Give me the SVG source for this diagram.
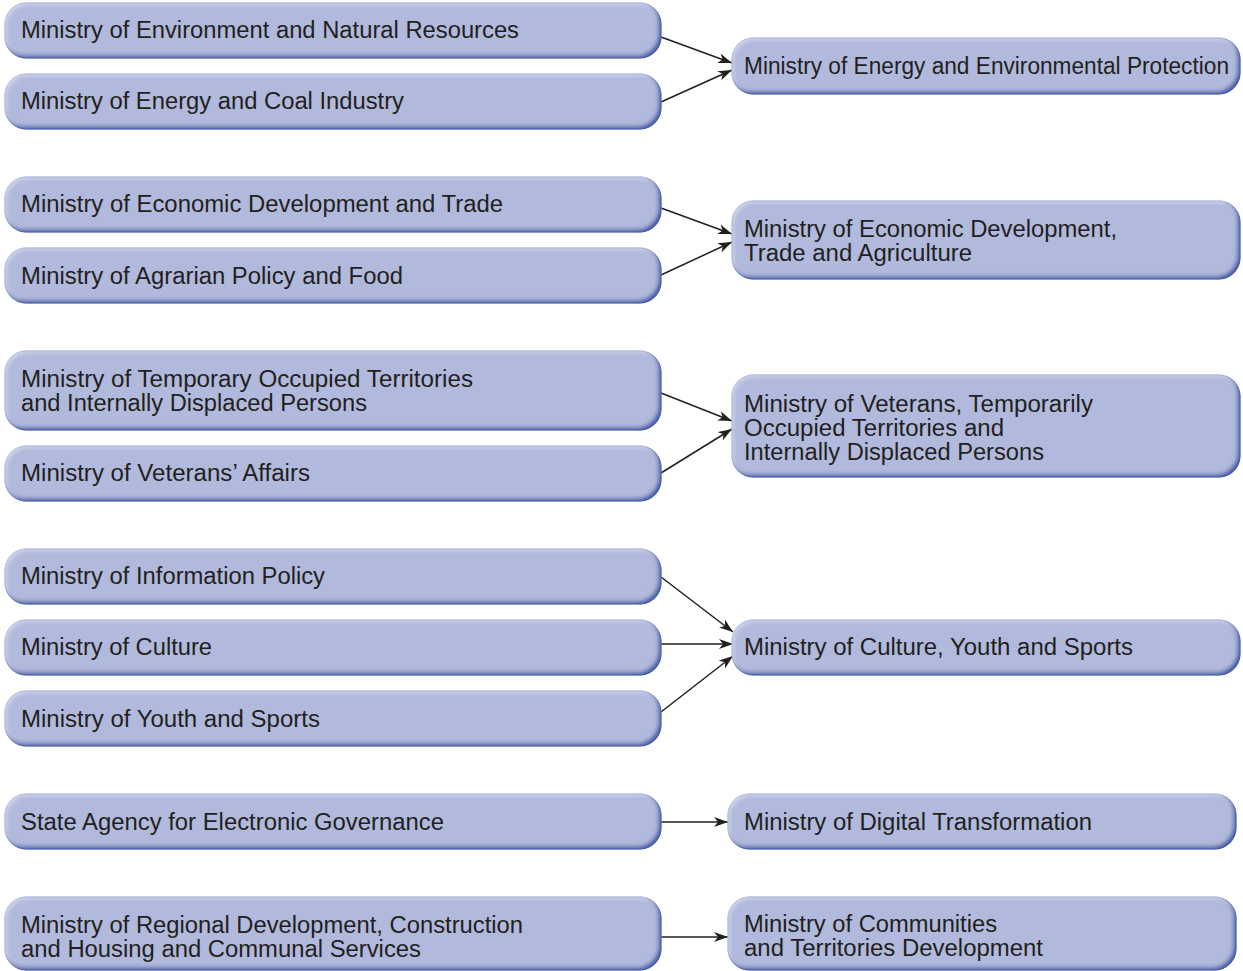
<svg xmlns="http://www.w3.org/2000/svg" width="1243" height="971" viewBox="0 0 1243 971">
<style>
.box{fill:#b1b9dc;stroke:#7f8ec7;stroke-width:1;filter:url(#bevel)}
.t{font-family:"Liberation Sans",Arial,Helvetica,sans-serif;font-size:23px;fill:#231f20}
.c{stroke:#231f20;stroke-width:1.5;fill:none;marker-end:url(#ah)}
</style>
<defs>
<filter id="bevel" x="-5%" y="-20%" width="110%" height="140%">
<feGaussianBlur in="SourceAlpha" stdDeviation="2" result="blur"/>
<feOffset in="blur" dx="-3.5" dy="-3" result="off"/>
<feComposite in="SourceAlpha" in2="off" operator="out" result="rim"/>
<feFlood flood-color="#3955a4" result="c1"/>
<feComposite in="c1" in2="rim" operator="in" result="shade"/>
<feOffset in="blur" dx="2" dy="2" result="off2"/>
<feComposite in="SourceAlpha" in2="off2" operator="out" result="rim2"/>
<feFlood flood-color="#dfe3f4" flood-opacity="0.7" result="c2"/>
<feComposite in="c2" in2="rim2" operator="in" result="hl"/>
<feMerge><feMergeNode in="SourceGraphic"/><feMergeNode in="hl"/><feMergeNode in="shade"/></feMerge>
</filter>
<marker id="ah" markerUnits="userSpaceOnUse" markerWidth="15" markerHeight="11" refX="14" refY="5" orient="auto">
<path d="M0,0 L14,5 L0,10 L4,5 Z" fill="#231f20"/>
</marker>
</defs>

<g id="connectors">
<line class="c" x1="661" y1="37" x2="732" y2="63"/>
<line class="c" x1="661" y1="102" x2="732" y2="70"/>
<line class="c" x1="661" y1="208" x2="732" y2="234"/>
<line class="c" x1="661" y1="275" x2="732" y2="242"/>
<line class="c" x1="661" y1="393" x2="732" y2="421"/>
<line class="c" x1="661" y1="473" x2="732" y2="429"/>
<line class="c" x1="661" y1="577" x2="733" y2="632"/>
<line class="c" x1="661" y1="644" x2="733" y2="644"/>
<line class="c" x1="661" y1="712" x2="733" y2="656"/>
<line class="c" x1="660" y1="822" x2="728" y2="822"/>
<line class="c" x1="660" y1="937" x2="728" y2="937"/>
</g>

<g id="n1"><rect class="box" x="5" y="3" width="656" height="55" rx="21"/>
<text class="t" x="21" y="38" textLength="498" lengthAdjust="spacingAndGlyphs">Ministry of Environment and Natural Resources</text></g>
<g id="n2"><rect class="box" x="5" y="74" width="656" height="55" rx="21"/>
<text class="t" x="21" y="109" textLength="383" lengthAdjust="spacingAndGlyphs">Ministry of Energy and Coal Industry</text></g>
<g id="n3"><rect class="box" x="5" y="177" width="656" height="55" rx="21"/>
<text class="t" x="21" y="212" textLength="482" lengthAdjust="spacingAndGlyphs">Ministry of Economic Development and Trade</text></g>
<g id="n4"><rect class="box" x="5" y="248" width="656" height="55" rx="21"/>
<text class="t" x="21" y="284" textLength="382" lengthAdjust="spacingAndGlyphs">Ministry of Agrarian Policy and Food</text></g>
<g id="n5"><rect class="box" x="5" y="351" width="656" height="79" rx="21"/>
<text class="t" x="21" y="387" textLength="452" lengthAdjust="spacingAndGlyphs">Ministry of Temporary Occupied Territories</text>
<text class="t" x="21" y="411" textLength="346" lengthAdjust="spacingAndGlyphs">and Internally Displaced Persons</text></g>
<g id="n6"><rect class="box" x="5" y="446" width="656" height="55" rx="21"/>
<text class="t" x="21" y="481" textLength="289" lengthAdjust="spacingAndGlyphs">Ministry of Veterans’ Affairs</text></g>
<g id="n7"><rect class="box" x="5" y="549" width="656" height="55" rx="21"/>
<text class="t" x="21" y="584" textLength="304" lengthAdjust="spacingAndGlyphs">Ministry of Information Policy</text></g>
<g id="n8"><rect class="box" x="5" y="620" width="656" height="55" rx="21"/>
<text class="t" x="21" y="655" textLength="191" lengthAdjust="spacingAndGlyphs">Ministry of Culture</text></g>
<g id="n9"><rect class="box" x="5" y="691" width="656" height="55" rx="21"/>
<text class="t" x="21" y="727" textLength="299" lengthAdjust="spacingAndGlyphs">Ministry of Youth and Sports</text></g>
<g id="n10"><rect class="box" x="5" y="794" width="656" height="55" rx="21"/>
<text class="t" x="21" y="830" textLength="423" lengthAdjust="spacingAndGlyphs">State Agency for Electronic Governance</text></g>
<g id="n11"><rect class="box" x="5" y="897" width="656" height="73" rx="21"/>
<text class="t" x="21" y="933" textLength="502" lengthAdjust="spacingAndGlyphs">Ministry of Regional Development, Construction</text>
<text class="t" x="21" y="957" textLength="400" lengthAdjust="spacingAndGlyphs">and Housing and Communal Services</text></g>

<g id="r1"><rect class="box" x="732" y="38" width="508" height="56" rx="21"/>
<text class="t" x="744" y="74" textLength="485" lengthAdjust="spacingAndGlyphs">Ministry of Energy and Environmental Protection</text></g>
<g id="r2"><rect class="box" x="732" y="201" width="508" height="78" rx="21"/>
<text class="t" x="744" y="237" textLength="373" lengthAdjust="spacingAndGlyphs">Ministry of Economic Development,</text>
<text class="t" x="744" y="261" textLength="228" lengthAdjust="spacingAndGlyphs">Trade and Agriculture</text></g>
<g id="r3"><rect class="box" x="732" y="375" width="508" height="102" rx="21"/>
<text class="t" x="744" y="412" textLength="349" lengthAdjust="spacingAndGlyphs">Ministry of Veterans, Temporarily</text>
<text class="t" x="744" y="436" textLength="260" lengthAdjust="spacingAndGlyphs">Occupied Territories and</text>
<text class="t" x="744" y="460" textLength="300" lengthAdjust="spacingAndGlyphs">Internally Displaced Persons</text></g>
<g id="r4"><rect class="box" x="732" y="620" width="508" height="55" rx="21"/>
<text class="t" x="744" y="655" textLength="389" lengthAdjust="spacingAndGlyphs">Ministry of Culture, Youth and Sports</text></g>
<g id="r5"><rect class="box" x="728" y="794" width="508" height="55" rx="21"/>
<text class="t" x="744" y="830" textLength="348" lengthAdjust="spacingAndGlyphs">Ministry of Digital Transformation</text></g>
<g id="r6"><rect class="box" x="728" y="897" width="508" height="73" rx="21"/>
<text class="t" x="744" y="932" textLength="253" lengthAdjust="spacingAndGlyphs">Ministry of Communities</text>
<text class="t" x="744" y="956" textLength="299" lengthAdjust="spacingAndGlyphs">and Territories Development</text></g>
</svg>
